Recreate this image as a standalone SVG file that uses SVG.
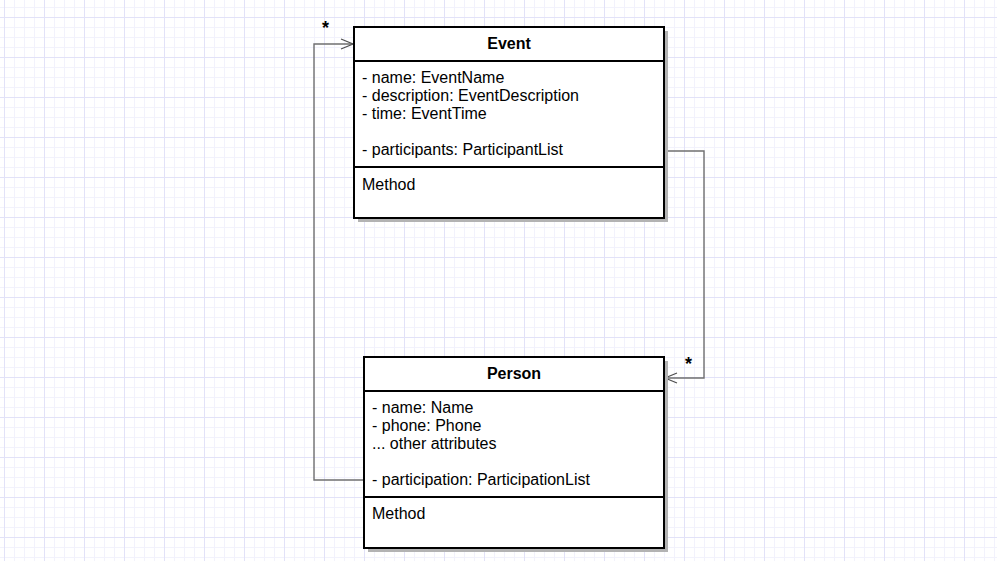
<svg xmlns="http://www.w3.org/2000/svg" width="997" height="561" viewBox="0 0 997 561">
<defs>
<pattern id="minor" width="10" height="10" patternUnits="userSpaceOnUse" x="4" y="7">
<path d="M0 0.5H10M0.5 0V10" fill="none" stroke="#f2f2fc" stroke-width="1"/>
</pattern>
<pattern id="major" width="40" height="40" patternUnits="userSpaceOnUse" x="4" y="17">
<path d="M0 0.5H40M0.5 0V40" fill="none" stroke="#e2e2f8" stroke-width="1"/>
</pattern>
<marker id="open" markerWidth="14" markerHeight="12" refX="13" refY="6" orient="auto" markerUnits="userSpaceOnUse">
<path d="M1 1L13 6L1 11" fill="none" stroke="#505050" stroke-width="1.2"/>
</marker>
</defs>
<style>
text{font-family:"Liberation Sans",Arial,sans-serif;font-size:16px;fill:#000}
.title{font-weight:bold;text-anchor:middle}
.box{fill:#fff;stroke:#000;stroke-width:2}
.shadow{fill:#b3b3b3}
.div{stroke:#000;stroke-width:2}
.edge{fill:none;stroke:#707070;stroke-width:1.4}
.star{font-size:18px;font-weight:bold}
</style>
<rect width="997" height="561" fill="#fff"/>
<rect width="997" height="561" fill="url(#minor)"/>
<rect width="997" height="561" fill="url(#major)"/>
<g id="connectors">
<path class="edge" d="M664 151H704V378H665" marker-end="url(#open)"/>
<path class="edge" d="M364 480H314V44H353" marker-end="url(#open)"/>
<text class="star" x="322" y="34">*</text>
<text class="star" x="685" y="370">*</text>
</g>
<g id="event">
<rect class="shadow" x="358" y="31" width="310" height="191"/>
<rect class="box" x="354" y="27" width="310" height="191"/>
<line class="div" x1="354" y1="61" x2="664" y2="61"/>
<line class="div" x1="354" y1="167" x2="664" y2="167"/>
<text class="title" x="509" y="49">Event</text>
<text x="362" y="83">- name: EventName</text>
<text x="362" y="101">- description: EventDescription</text>
<text x="362" y="119">- time: EventTime</text>
<text x="362" y="155">- participants: ParticipantList</text>
<text x="362" y="190">Method</text>
</g>
<g id="person">
<rect class="shadow" x="368" y="361" width="300" height="191"/>
<rect class="box" x="364" y="357" width="300" height="191"/>
<line class="div" x1="364" y1="391" x2="664" y2="391"/>
<line class="div" x1="364" y1="497" x2="664" y2="497"/>
<text class="title" x="514" y="379">Person</text>
<text x="372" y="413">- name: Name</text>
<text x="372" y="431">- phone: Phone</text>
<text x="372" y="449">... other attributes</text>
<text x="372" y="485">- participation: ParticipationList</text>
<text x="372" y="519">Method</text>
</g>
</svg>
